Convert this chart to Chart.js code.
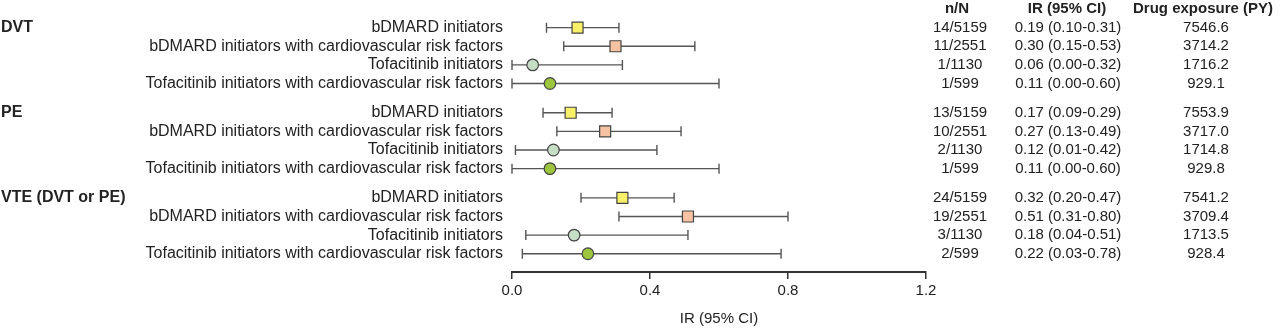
<!DOCTYPE html>
<html>
<head>
<meta charset="utf-8">
<script src="https://cdn.jsdelivr.net/npm/chart.js@4"></script>
<style>
  html, body { margin: 0; padding: 0; background: #fff; }
  #wrap { width: 1280px; height: 330px; position: relative; }
</style>
</head>
<body>
<div id="wrap"><canvas id="c" width="1280" height="330"></canvas></div>
<script>
// ---- Data ----
const outcomes = ["DVT", "PE", "VTE (DVT or PE)"];
const cohorts = [
  "bDMARD initiators",
  "bDMARD initiators with cardiovascular risk factors",
  "Tofacitinib initiators",
  "Tofacitinib initiators with cardiovascular risk factors"
];
// rows per outcome: [bDMARD, bDMARD CV, Tofa, Tofa CV]
const irEstimate = [[0.19, 0.30, 0.06, 0.11], [0.17, 0.27, 0.12, 0.11], [0.32, 0.51, 0.18, 0.22]];
const irLow      = [[0.10, 0.15, 0.00, 0.00], [0.09, 0.13, 0.01, 0.00], [0.20, 0.31, 0.04, 0.03]];
const irHigh     = [[0.31, 0.53, 0.32, 0.60], [0.29, 0.49, 0.42, 0.60], [0.47, 0.80, 0.51, 0.78]];
const nEvents    = [[14, 11, 1, 1], [13, 10, 2, 1], [24, 19, 3, 2]];
const nPatients  = [[5159, 2551, 1130, 599], [5159, 2551, 1130, 599], [5159, 2551, 1130, 599]];
const exposurePY = [["7546.6", "3714.2", "1716.2", "929.1"], ["7553.9", "3717.0", "1714.8", "929.8"], ["7541.2", "3709.4", "1713.5", "928.4"]];
const xTicks = [0.0, 0.4, 0.8, 1.2];
const columnHeaders = ["n/N", "IR (95% CI)", "Drug exposure (PY)"];
const axisTitle = "IR (95% CI)";

// ---- Styles ----
const markerFill = ["#f8f068", "#f7c2a2", "#c6ddc6", "#9dc63e"];
const markerStyle = ["rect", "rect", "circle", "circle"];
const markerRadius = [7.8, 7.8, 5.8, 5.8];
const GROUP_STEP = 4.57;
const rowPos = (g, i) => g * GROUP_STEP + i;
const FONT = '"Liberation Sans", Arial, Helvetica, sans-serif';
const TEXT = "#222";

const datasets = cohorts.map((name, i) => ({
  label: name,
  data: outcomes.map((o, g) => ({ x: irEstimate[g][i], y: rowPos(g, i), lo: irLow[g][i], hi: irHigh[g][i] })),
  pointStyle: markerStyle[i],
  pointRadius: markerRadius[i],
  pointHoverRadius: markerRadius[i],
  backgroundColor: markerFill[i],
  borderColor: "#444",
  borderWidth: 1.2,
  showLine: false
}));

const forestPlugin = {
  id: "forest",
  beforeDatasetsDraw(chart) {
    const ctx = chart.ctx, xs = chart.scales.x, ys = chart.scales.y;
    ctx.save();
    ctx.strokeStyle = "#555";
    ctx.lineWidth = 1.4;
    chart.data.datasets.forEach(ds => {
      ds.data.forEach(p => {
        const y = ys.getPixelForValue(p.y);
        const x1 = xs.getPixelForValue(p.lo), x2 = xs.getPixelForValue(p.hi);
        ctx.beginPath();
        ctx.moveTo(x1, y); ctx.lineTo(x2, y);
        ctx.moveTo(x1, y - 5); ctx.lineTo(x1, y + 5);
        ctx.moveTo(x2, y - 5); ctx.lineTo(x2, y + 5);
        ctx.stroke();
      });
    });
    ctx.restore();
  },
  afterDraw(chart) {
    const ctx = chart.ctx, ys = chart.scales.y;
    ctx.save();
    ctx.fillStyle = TEXT;
    ctx.textBaseline = "middle";
    // column headers
    ctx.font = "bold 15px " + FONT;
    ctx.textAlign = "center";
    const headX = [957, 1067, 1203];
    columnHeaders.forEach((h, k) => ctx.fillText(h, headX[k], 9));
    outcomes.forEach((o, g) => {
      ctx.font = "bold 16px " + FONT;
      ctx.textAlign = "left";
      ctx.fillText(o, 1, ys.getPixelForValue(rowPos(g, 0)));
      cohorts.forEach((c, i) => {
        const y = ys.getPixelForValue(rowPos(g, i));
        ctx.font = "16px " + FONT;
        ctx.textAlign = "right";
        ctx.fillText(c, 503, y);
        ctx.font = "15px " + FONT;
        ctx.textAlign = "center";
        ctx.fillText(nEvents[g][i] + "/" + nPatients[g][i], 960, y);
        ctx.fillText(irEstimate[g][i].toFixed(2) + " (" + irLow[g][i].toFixed(2) + "-" + irHigh[g][i].toFixed(2) + ")", 1068, y);
        ctx.fillText(exposurePY[g][i], 1206, y);
      });
    });
    ctx.restore();
  }
};

new Chart(document.getElementById("c"), {
  type: "scatter",
  data: { datasets },
  plugins: [forestPlugin],
  options: {
    responsive: false,
    animation: false,
    events: [],
    layout: { padding: { left: 512, right: 354, top: 7.25, bottom: 0 } },
    plugins: { legend: { display: false }, tooltip: { enabled: false } },
    scales: {
      x: {
        type: "linear",
        min: 0, max: 1.2,
        afterBuildTicks: s => { s.ticks = xTicks.map(v => ({ value: v })); },
        afterFit: s => { s.height = 58; },
        border: { display: true, color: "#333", width: 2 },
        grid: { display: true, drawOnChartArea: false, drawTicks: true, tickLength: 7, color: "#333", lineWidth: 1.5 },
        ticks: { color: TEXT, font: { family: FONT, size: 15 }, padding: 3, callback: v => Number(v).toFixed(1), maxRotation: 0 },
        title: { display: true, text: axisTitle, color: TEXT, font: { family: FONT, size: 15 }, padding: { top: 4, bottom: 2 } }
      },
      y: {
        type: "linear",
        display: false,
        reverse: true,
        min: -1,
        max: 13.12
      }
    }
  }
});
</script>
</body>
</html>
